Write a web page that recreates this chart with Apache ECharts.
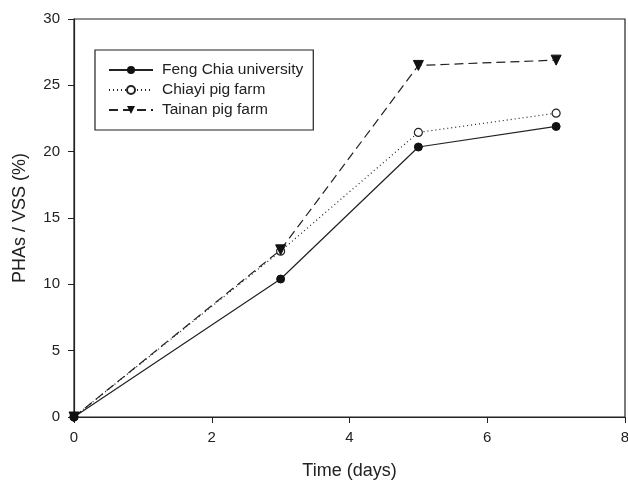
<!DOCTYPE html>
<html><head><meta charset="utf-8">
<script src="https://cdn.jsdelivr.net/npm/echarts@6/dist/echarts.min.js"></script>
<style>html,body{margin:0;padding:0;background:#fff}#c{width:628px;height:482px}</style>
</head><body><div id="c"></div>
<script>
const days = [0, 3, 5, 7];
const fengChia = [0, 10.4, 20.35, 21.9];
const chiayi = [0, 12.5, 21.45, 22.9];
const tainan = [0, 12.6, 26.5, 26.9];
const seriesNames = ['Feng Chia university', 'Chiayi pig farm', 'Tainan pig farm'];

const chart = echarts.init(document.getElementById('c'));
const pts = arr => days.map((d, i) => [d, arr[i]]);
const font = 'Liberation Sans, Arial, sans-serif';
chart.setOption({
  animation: false,
  backgroundColor: '#fff',
  grid: {left: 74, right: 3, top: 19, bottom: 65, show: true, borderColor: '#222', borderWidth: 1.2,
         backgroundColor: 'transparent', containLabel: false, outerBoundsMode: 'none'},
  legend: {
    orient: 'vertical', left: 95, top: 50,
    padding: [12, 10, 12, 13],
    itemGap: 4, itemWidth: 44, itemHeight: 10,
    borderColor: '#222', borderWidth: 1.2,
    textStyle: {fontFamily: font, fontSize: 15.5, lineHeight: 15, color: '#222', padding: [0, 0, 0, 4]},
    data: seriesNames
  },
  xAxis: {
    type: 'value', min: 0, max: 8, interval: 2,
    name: 'Time (days)', nameLocation: 'middle', nameGap: 45,
    nameTextStyle: {fontFamily: font, fontSize: 18, color: '#222'},
    axisLine: {lineStyle: {color: '#222', width: 1.2}},
    axisTick: {show: true, length: 6, lineStyle: {color: '#222'}},
    axisLabel: {fontFamily: font, fontSize: 15, color: '#222', margin: 13},
    splitLine: {show: false}
  },
  yAxis: {
    type: 'value', min: 0, max: 30, interval: 5,
    name: 'PHAs / VSS (%)', nameLocation: 'middle', nameGap: 45,
    nameTextStyle: {fontFamily: font, fontSize: 18, color: '#222'},
    axisLine: {show: true, lineStyle: {color: '#222', width: 1.2}},
    axisTick: {show: true, length: 6, lineStyle: {color: '#222'}},
    axisLabel: {fontFamily: font, fontSize: 15, color: '#222', margin: 14},
    splitLine: {show: false}
  },
  series: [
    {name: seriesNames[0], type: 'line', data: pts(fengChia), symbol: 'circle', symbolSize: 8,
     lineStyle: {color: '#222', width: 1.2, type: 'solid'}, itemStyle: {color: '#111', borderColor: '#111'}, z: 3},
    {name: seriesNames[1], type: 'line', data: pts(chiayi), symbol: 'circle', symbolSize: 8,
     lineStyle: {color: '#222', width: 1.2, type: [1, 3]}, itemStyle: {color: '#fff', borderColor: '#222', borderWidth: 1.2}, z: 2},
    {name: seriesNames[2], type: 'line', data: pts(tainan), symbol: 'triangle', symbolRotate: 180, symbolSize: 10,
     lineStyle: {color: '#222', width: 1.2, type: [9, 5]}, itemStyle: {color: '#111', borderColor: '#111'}, z: 4}
  ]
});
</script></body></html>
